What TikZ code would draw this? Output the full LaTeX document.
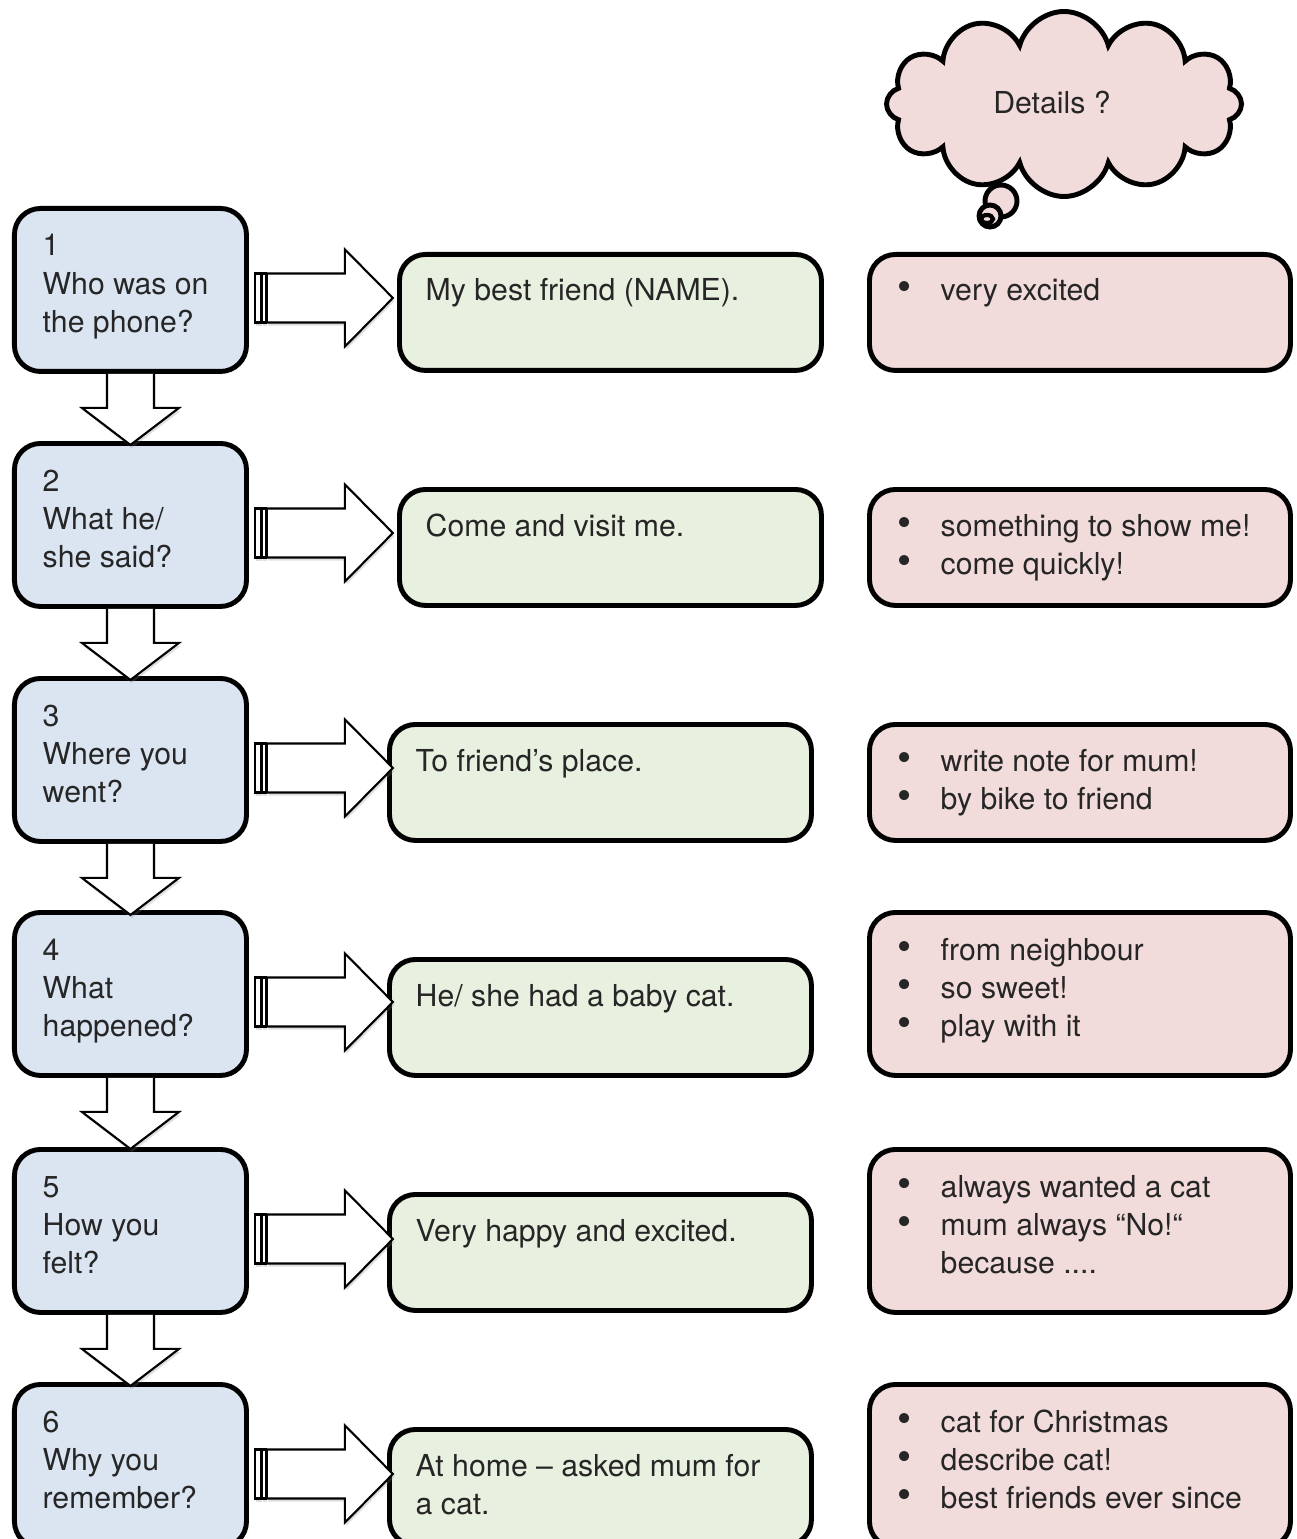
\documentclass[tikz,border=0pt]{standalone}
\usepackage{fontspec}
\setmainfont{TeX Gyre Heros}
\usepackage{xcolor}
\usetikzlibrary{shapes.symbols,shadows,calc}

\definecolor{qblue}{RGB}{219,229,241}
\definecolor{agreen}{RGB}{232,240,224}
\definecolor{dpink}{RGB}{242,220,219}

% bullet with a fixed gap before the text
\newcommand{\bl}{\makebox[0.43cm][l]{\fontsize{11.5}{10}\selectfont\textbullet}}

\begin{document}
\begin{tikzpicture}[
  every node/.style={font=\fontsize{8.6}{10.9}\selectfont, text=black!85},
  box/.style={draw=black, line width=1.4pt, rounded corners=0.26cm,
    anchor=north west, inner sep=0pt},
  qbox/.style={box, fill=qblue, minimum width=2.32cm, minimum height=1.63cm},
  abox/.style={box, fill=agreen, minimum width=4.22cm, minimum height=1.16cm},
  dbox/.style={box, fill=dpink, minimum width=4.21cm, minimum height=1.16cm},
  tall/.style={minimum height=1.63cm},
  txt/.style={anchor=base west, inner sep=0pt},
  blockarrow/.style={draw=black, line width=0.6pt, fill=white,
    drop shadow={shadow xshift=0.4pt, shadow yshift=-0.9pt, opacity=0.25}},
  rarrow/.pic={
    \draw[blockarrow] (0.06,0.245) rectangle (0.12,-0.245);
    \draw[blockarrow] (0.13,0.245) rectangle (0.17,-0.245);
    \draw[blockarrow] (0.18,0.245) -- (0.96,0.245) -- (0.96,0.485) -- (1.44,0)
      -- (0.96,-0.485) -- (0.96,-0.245) -- (0.18,-0.245) -- cycle;
  },
  darrow/.pic={
    \draw[blockarrow] (-0.235,0) -- (-0.235,-0.34) -- (-0.485,-0.34) -- (0,-0.71)
      -- (0.485,-0.34) -- (0.235,-0.34) -- (0.235,0);
  },
]
\useasboundingbox (0,0) rectangle (12.96,-15.39);
\clip (0,0) rectangle (12.96,-15.39);

% Thought cloud
\draw[line width=1.4pt, fill=dpink] (10.01,-2.01) circle (0.16);
\draw[line width=1.4pt, fill=dpink] (9.90,-2.16) circle (0.11);
\draw[line width=1.2pt] (9.87,-2.19) ellipse (0.06 and 0.04);
\node[cloud, cloud puffs=12, cloud ignores aspect, draw=black, line width=1.4pt,
  fill=dpink, minimum width=3.55cm, minimum height=1.85cm] (cloud) at (10.64,-1.04) {};
\node (details) at (10.52,-1.03) {Details ?};

% Row 1
\node[qbox] (q1) at (0.12,-2.06) {};
\node[abox] (a1) at (3.97,-2.52) {};
\node[dbox] (d1) at (8.67,-2.52) {};
\node[txt] (q1t) at ($(q1.north west)+(0.30,-0.50)$) {\parbox[t]{2cm}{1\\Who was on\\the phone?}};
\node[txt] (a1t) at ($(a1.north west)+(0.28,-0.49)$) {\parbox[t]{3.9cm}{My best friend (NAME).}};
\node[txt] (d1t) at ($(d1.north west)+(0.30,-0.49)$) {\parbox[t]{3.9cm}{\bl very excited}};

% Row 2
\node[qbox] (q2) at (0.12,-4.41) {};
\node[abox] (a2) at (3.97,-4.87) {};
\node[dbox] (d2) at (8.67,-4.87) {};
\node[txt] (q2t) at ($(q2.north west)+(0.30,-0.50)$) {\parbox[t]{2cm}{2\\What he/\\she said?}};
\node[txt] (a2t) at ($(a2.north west)+(0.28,-0.49)$) {\parbox[t]{3.9cm}{Come and visit me.}};
\node[txt] (d2t) at ($(d2.north west)+(0.30,-0.49)$) {\parbox[t]{3.9cm}{\bl something to show me!\\\bl come quickly!}};

% Row 3
\node[qbox] (q3) at (0.12,-6.76) {};
\node[abox] (a3) at (3.87,-7.22) {};
\node[dbox] (d3) at (8.67,-7.22) {};
\node[txt] (q3t) at ($(q3.north west)+(0.30,-0.50)$) {\parbox[t]{2cm}{3\\Where you\\went?}};
\node[txt] (a3t) at ($(a3.north west)+(0.28,-0.49)$) {\parbox[t]{3.9cm}{To friend’s place.}};
\node[txt] (d3t) at ($(d3.north west)+(0.30,-0.49)$) {\parbox[t]{3.9cm}{\bl write note for mum!\\\bl by bike to friend}};

% Row 4
\node[qbox] (q4) at (0.12,-9.10) {};
\node[abox] (a4) at (3.87,-9.57) {};
\node[dbox, tall] (d4) at (8.67,-9.10) {};
\node[txt] (q4t) at ($(q4.north west)+(0.30,-0.50)$) {\parbox[t]{2cm}{4\\What\\happened?}};
\node[txt] (a4t) at ($(a4.north west)+(0.28,-0.49)$) {\parbox[t]{3.9cm}{He/ she had a baby cat.}};
\node[txt] (d4t) at ($(d4.north west)+(0.30,-0.50)$) {\parbox[t]{3.9cm}{\bl from neighbour\\\bl so sweet!\\\bl play with it}};

% Row 5
\node[qbox] (q5) at (0.12,-11.47) {};
\node[abox] (a5) at (3.87,-11.92) {};
\node[dbox, tall] (d5) at (8.67,-11.47) {};
\node[txt] (q5t) at ($(q5.north west)+(0.30,-0.50)$) {\parbox[t]{2cm}{5\\How you\\felt?}};
\node[txt] (a5t) at ($(a5.north west)+(0.28,-0.49)$) {\parbox[t]{3.9cm}{Very happy and excited.}};
\node[txt] (d5t) at ($(d5.north west)+(0.30,-0.50)$) {\parbox[t]{3.9cm}{\bl always wanted a cat\\\bl mum always “No!“\\\hspace*{0.43cm}because ....}};

% Row 6
\node[qbox] (q6) at (0.12,-13.82) {};
\node[abox] (a6) at (3.87,-14.27) {};
\node[dbox, tall] (d6) at (8.67,-13.82) {};
\node[txt] (q6t) at ($(q6.north west)+(0.30,-0.50)$) {\parbox[t]{2cm}{6\\Why you\\remember?}};
\node[txt] (a6t) at ($(a6.north west)+(0.28,-0.49)$) {\parbox[t]{3.9cm}{At home – asked mum for\\a cat.}};
\node[txt] (d6t) at ($(d6.north west)+(0.30,-0.50)$) {\parbox[t]{3.9cm}{\bl cat for Christmas\\\bl describe cat!\\\bl best friends ever since}};

% Arrows to the answers
\pic at ($(q1.north east)+(0,-0.92)$) {rarrow};
\pic at ($(q2.north east)+(0,-0.92)$) {rarrow};
\pic at ($(q3.north east)+(0,-0.92)$) {rarrow};
\pic at ($(q4.north east)+(0,-0.92)$) {rarrow};
\pic at ($(q5.north east)+(0,-0.92)$) {rarrow};
\pic at ($(q6.north east)+(0,-0.92)$) {rarrow};

% Arrows down the questions
\pic at (q1.south) {darrow};
\pic at (q2.south) {darrow};
\pic at (q3.south) {darrow};
\pic at (q4.south) {darrow};
\pic at (q5.south) {darrow};
\end{tikzpicture}
\end{document}
